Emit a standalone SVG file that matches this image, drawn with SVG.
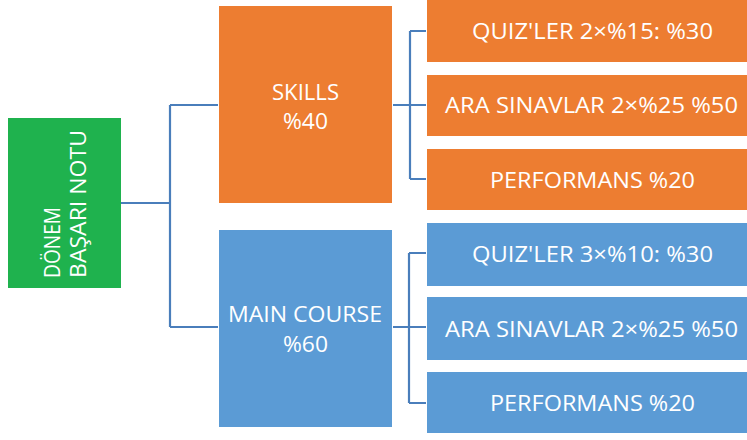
<svg xmlns="http://www.w3.org/2000/svg" width="747" height="440" viewBox="0 0 747 440">
<style>
.t{font-family:"Open Sans","Liberation Sans",sans-serif;fill:#ffffff;}
.m{font-size:22px;text-anchor:middle;}
.c{font-size:21px;text-anchor:middle;}
.g{font-size:21px;}
.org{fill:#ED7D31;}
.blu{fill:#5B9BD5;}
.con{fill:none;stroke:#4A7EBB;stroke-width:2.2;}
</style>
<rect width="747" height="440" fill="#ffffff"/>
<g id="connectors">
<path class="con" d="M121 203 H170 M170 105 V327 M170 105 H218 M170 327 H218"/>
<path class="con" d="M393 105 H410 M410 31 V179 M410 31 H426 M410 105 H426 M410 179 H426"/>
<path class="con" d="M393 327 H409 M409 253 V403 M409 253 H426 M409 327 H426 M409 403 H426"/>
</g>
<g id="donem">
<rect x="8" y="118" width="113" height="170" fill="#1FB24E"/>
<text class="t g" transform="rotate(-90)" x="-278" y="60" textLength="71" lengthAdjust="spacingAndGlyphs">DÖNEM</text>
<text class="t g" transform="rotate(-90)" x="-278" y="86" textLength="148" lengthAdjust="spacingAndGlyphs">BAŞARI NOTU</text>
</g>
<g id="skills">
<rect class="org" x="219" y="6" width="173" height="197"/>
<text class="t m" x="305.5" y="100" textLength="67" lengthAdjust="spacingAndGlyphs">SKILLS</text>
<text class="t m" x="305.5" y="129" textLength="45" lengthAdjust="spacingAndGlyphs">%40</text>
</g>
<g id="main">
<rect class="blu" x="219" y="230" width="173" height="197"/>
<text class="t m" x="305" y="322" textLength="154" lengthAdjust="spacingAndGlyphs">MAIN COURSE</text>
<text class="t m" x="305.5" y="352" textLength="45" lengthAdjust="spacingAndGlyphs">%60</text>
</g>
<g id="s1">
<rect class="org" x="427" y="0" width="330" height="62"/>
<text class="t c" x="592.5" y="39" textLength="241" lengthAdjust="spacingAndGlyphs">QUIZ'LER 2×%15: %30</text>
</g>
<g id="s2">
<rect class="org" x="427" y="75" width="330" height="61"/>
<text class="t c" x="591.5" y="113" textLength="293" lengthAdjust="spacingAndGlyphs">ARA SINAVLAR 2×%25 %50</text>
</g>
<g id="s3">
<rect class="org" x="427" y="149" width="330" height="61"/>
<text class="t c" x="592.5" y="188" textLength="205" lengthAdjust="spacingAndGlyphs">PERFORMANS %20</text>
</g>
<g id="m1">
<rect class="blu" x="427" y="223" width="330" height="63"/>
<text class="t c" x="592.5" y="262" textLength="241" lengthAdjust="spacingAndGlyphs">QUIZ'LER 3×%10: %30</text>
</g>
<g id="m2">
<rect class="blu" x="427" y="297" width="330" height="63"/>
<text class="t c" x="591.5" y="337" textLength="293" lengthAdjust="spacingAndGlyphs">ARA SINAVLAR 2×%25 %50</text>
</g>
<g id="m3">
<rect class="blu" x="427" y="372" width="330" height="61"/>
<text class="t c" x="592.5" y="411" textLength="205" lengthAdjust="spacingAndGlyphs">PERFORMANS %20</text>
</g>
</svg>
